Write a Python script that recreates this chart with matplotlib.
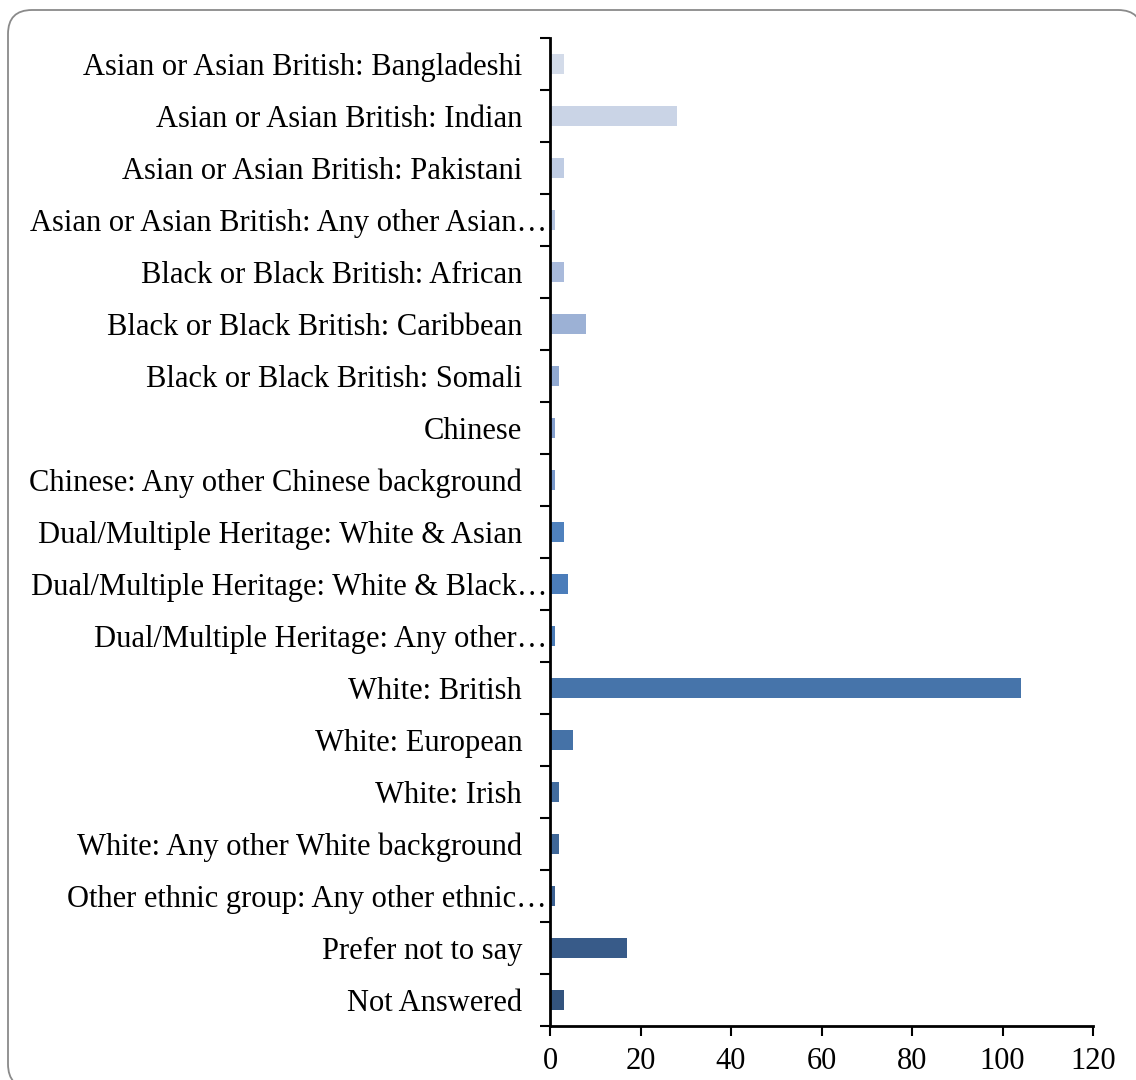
import matplotlib
matplotlib.use("Agg")
import matplotlib.pyplot as plt
from matplotlib.path import Path
from matplotlib.patches import PathPatch

categories = [
    "Asian or Asian British: Bangladeshi",
    "Asian or Asian British: Indian",
    "Asian or Asian British: Pakistani",
    "Asian or Asian British: Any other Asian\u2026",
    "Black or Black British: African",
    "Black or Black British: Caribbean",
    "Black or Black British: Somali",
    "Chinese",
    "Chinese: Any other Chinese background",
    "Dual/Multiple Heritage: White & Asian",
    "Dual/Multiple Heritage: White & Black\u2026",
    "Dual/Multiple Heritage: Any other\u2026",
    "White: British",
    "White: European",
    "White: Irish",
    "White: Any other White background",
    "Other ethnic group: Any other ethnic\u2026",
    "Prefer not to say",
    "Not Answered",
]
values = [3, 28, 3, 1, 3, 8, 2, 1, 1, 3, 4, 1, 104, 5, 2, 2, 1, 17, 3]
colors = [
    "#d3dbe9", "#cad4e6", "#bfcce3", "#b3c3df", "#a9badb", "#9cb1d5",
    "#91a9d1", "#849fcd", "#7898ca", "#4f81bd", "#4b7dba", "#4a7bb6",
    "#4674aa", "#4572a7", "#426c9e", "#3f6798", "#3c6192", "#385b89",
    "#33547e",
]
xticks = [0, 20, 40, 60, 80, 100, 120]

W, H, DPI = 1136, 1080, 100
fig = plt.figure(figsize=(W / DPI, H / DPI), dpi=DPI)
fig.patch.set_facecolor("white")

# rounded frame (open on the right/bottom where it leaves the canvas)
L, R, T, B, r = 8, 1142, 10, 1088, 24
pts = [
    (R, T + r), (R, T), (R - r, T),
    (L + r, T),
    (L, T), (L, T + r),
    (L, B - r),
    (L, B), (L + r, B),
]
codes = [Path.MOVETO, Path.CURVE3, Path.CURVE3, Path.LINETO,
         Path.CURVE3, Path.CURVE3, Path.LINETO, Path.CURVE3, Path.CURVE3]
verts = [(x / DPI, (H - y) / DPI) for x, y in pts]
frame = PathPatch(Path(verts, codes), transform=fig.dpi_scale_trans,
                  facecolor="none", edgecolor="#8a8a8a", linewidth=1.3)
fig.patches.append(frame)

ax = fig.add_axes([550 / W, 1 - 1026 / H, (1093 - 550) / W, (1026 - 38) / H])
n = len(categories)
ypos = list(range(n))
ax.barh(ypos, values, height=0.4, color=colors, edgecolor="none")
ax.set_ylim(n - 0.5, -0.5)
ax.set_xlim(0, 120)
ax.set_xticks(xticks)
ax.set_yticks(ypos)
ax.set_yticklabels(categories)

# category boundary ticks
ax.set_yticks([i - 0.5 for i in range(n + 1)], minor=True)
ax.tick_params(axis="y", which="major", length=0, pad=20)
ax.tick_params(axis="y", which="minor", length=7, width=1.5, direction="out")
ax.tick_params(axis="x", which="major", length=7, width=1.5, direction="out", pad=8)

font = "Liberation Serif"
for lab in ax.get_yticklabels() + ax.get_xticklabels():
    lab.set_fontfamily(font)
    lab.set_fontsize(22)
    lab.set_color("black")

for t, lab in zip(ax.yaxis.get_major_ticks(), categories):
    if lab.endswith("\u2026"):
        t.set_pad(2)

for side in ["top", "right"]:
    ax.spines[side].set_visible(False)
for side in ["left", "bottom"]:
    ax.spines[side].set_linewidth(2)
    ax.spines[side].set_color("black")

fig.savefig("out.png", dpi=DPI)
